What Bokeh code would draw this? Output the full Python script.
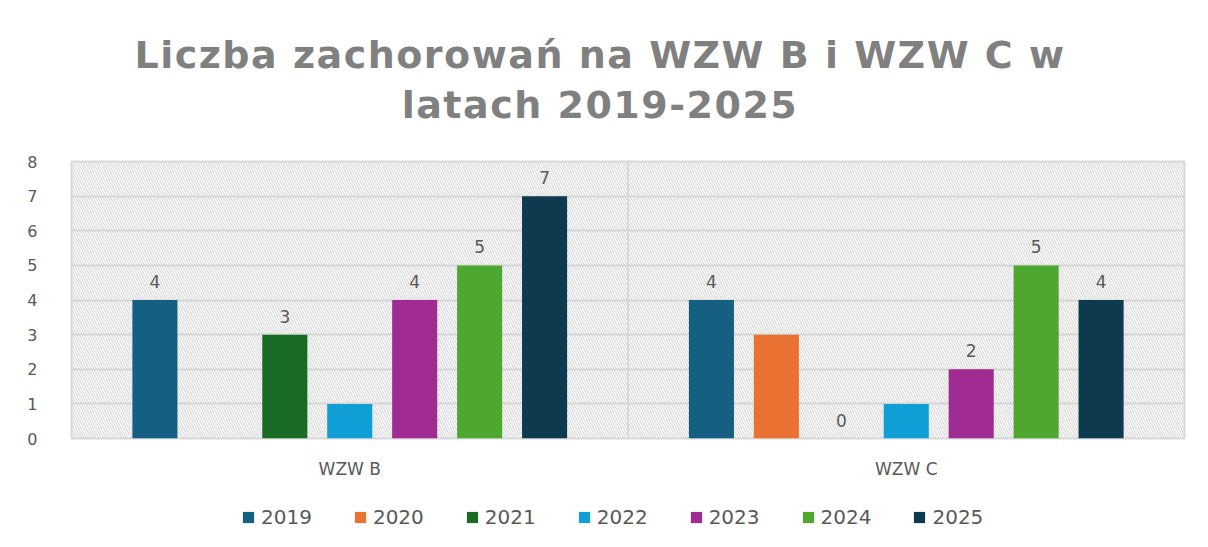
import numpy as np
from bokeh.plotting import figure
from bokeh.layouts import column
from bokeh.models import (ColumnDataSource, FactorRange, Range1d, Legend, Span, Div,
                          BoxAnnotation, SingleIntervalTicker)
from bokeh.transform import dodge
from bokeh.core.properties import value
from bokeh.embed import file_html
from bokeh.resources import INLINE

categories = ["WZW B", "WZW C"]
years = ["2019", "2020", "2021", "2022", "2023", "2024", "2025"]
wzw_b = [4, np.nan, 3, 1, 4, 5, 7]
wzw_c = [4, 3, 0, 1, 2, 5, 4]
labels_b = ["4", "", "3", "", "4", "5", "7"]
labels_c = ["4", "", "0", "", "2", "5", "4"]
colors = ["#156082", "#E97132", "#196B24", "#0F9ED5", "#A02B93", "#4EA72E", "#0E3A4F"]
title_lines = ["Liczba zachorowań na WZW B i WZW C w", "latach 2019-2025"]

FONT = "DejaVu Sans"
GRAY = "#595959"

# title block
title = Div(text="<div style=\"width:1200px;text-align:center;font-family:'DejaVu Sans';"
                 "font-weight:bold;font-size:38px;line-height:50px;letter-spacing:1.5px;"
                 "color:#808080;padding-top:30px\">" + "<br>".join(title_lines) + "</div>",
            width=1200, height=120, margin=0)

p = figure(x_range=FactorRange(*categories), y_range=Range1d(0, 8),
           frame_width=1113, frame_height=277, output_backend="svg", toolbar_location=None,
           min_border_left=71, min_border_right=16, min_border_top=41, min_border_bottom=50)

# hatched background
p.add_layout(BoxAnnotation(fill_alpha=0, line_alpha=0, hatch_pattern="\\",
                           hatch_color="#cfcfcf", hatch_weight=1, hatch_scale=5,
                           level="underlay"))

p.outline_line_color = "#d9d9d9"
p.outline_line_width = 2
p.xgrid.grid_line_color = None
p.ygrid.grid_line_color = "#d9d9d9"
p.ygrid.grid_line_width = 2
p.add_layout(Span(location=1, dimension="height", line_color="#d9d9d9", line_width=2))

n = len(years)
slot = 0.1167
bw = 0.081
for i, (yr, col) in enumerate(zip(years, colors)):
    off = (i - (n - 1) / 2) * slot
    src = ColumnDataSource(dict(x=categories, top=[wzw_b[i], wzw_c[i]],
                                lab=[labels_b[i], labels_c[i]],
                                ly=[0 if np.isnan(wzw_b[i]) else wzw_b[i], wzw_c[i]]))
    p.vbar(x=dodge("x", off, range=p.x_range), top="top", width=bw, source=src,
           fill_color=col, line_color=None)
    p.text(x=dodge("x", off, range=p.x_range), y="ly", text="lab", source=src,
           text_align="center", text_baseline="bottom", y_offset=-12,
           text_font=value(FONT), text_font_size="17px", text_color=GRAY)

p.yaxis.ticker = SingleIntervalTicker(interval=1)
p.yaxis.axis_line_color = None
p.yaxis.major_tick_line_color = None
p.yaxis.minor_tick_line_color = None
p.yaxis.major_label_standoff = 28
p.yaxis.major_label_text_font = FONT
p.yaxis.major_label_text_font_size = "16px"
p.yaxis.major_label_text_color = GRAY

p.xaxis.axis_line_color = None
p.xaxis.major_tick_line_color = None
p.xaxis.major_label_standoff = 14
p.xaxis.major_label_text_font = FONT
p.xaxis.major_label_text_font_size = "17px"
p.xaxis.major_label_text_color = GRAY

# legend strip below the chart (legend proxies sit outside the visible range)
lf = figure(width=1200, height=58, x_range=Range1d(0, 1), y_range=Range1d(0, 1),
            output_backend="svg", toolbar_location=None, min_border=0,
            outline_line_color=None)
lf.axis.visible = False
lf.grid.grid_line_color = None
legend_items = []
for yr, col in zip(years, colors):
    r = lf.vbar(x=[-5], top=[-5], bottom=[-6], width=0.1, fill_color=col, line_color=None)
    legend_items.append((yr, [r]))
legend = Legend(items=legend_items, orientation="horizontal", location=(170, 17),
                label_text_font=FONT, label_text_font_size="20px", label_text_color=GRAY,
                glyph_width=14, glyph_height=14, label_standoff=6, spacing=41,
                border_line_color=None, background_fill_alpha=0, padding=0, margin=0)
lf.add_layout(legend, "center")

layout = column(title, p, lf, spacing=0)
open("out.html", "w").write(file_html(layout, INLINE))
